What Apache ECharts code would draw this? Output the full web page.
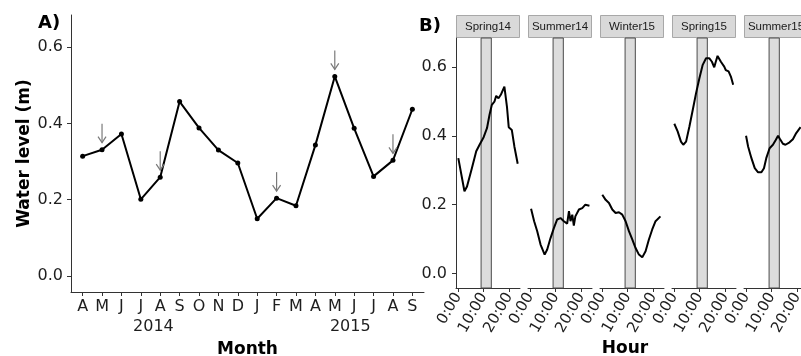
<!DOCTYPE html>
<html>
<head>
<meta charset="utf-8">
<script src="https://cdn.jsdelivr.net/npm/echarts@6/dist/echarts.min.js"></script>
<style>
  html, body { margin: 0; padding: 0; background: #ffffff; }
  #chart { width: 801px; height: 356px; }
</style>
</head>
<body>
<div id="chart"></div>
<script>
// Panel A: monthly mean water level, April 2014 to September 2015
const months = ['A','M','J','J','A','S','O','N','D','J','F','M','A','M','J','J','A','S'];
const waterLevel = [0.314, 0.331, 0.372, 0.201, 0.259, 0.457, 0.388, 0.330, 0.296,
                    0.150, 0.204, 0.184, 0.343, 0.523, 0.387, 0.261, 0.303, 0.437];
// months (by index) whose diel profile is shown in panel B
const sampledMonths = [1, 4, 10, 13, 16];
const years = ['2014', '2015'];
const yearCentres = [3.65, 13.8];

// Panel B: diel water level for each sampling campaign
const facetNames = ['Spring14', 'Summer14', 'Winter15', 'Spring15', 'Summer15'];
const spring14Hours = [0.1, 2.5, 3.5, 5.4, 7.1, 8.4, 10.0, 11.3, 12.3, 13.2, 14.2, 14.9, 15.8, 16.7, 18.1, 19.1, 19.8, 20.3, 21.0, 22.0, 23.3];
const spring14Level = [0.335, 0.239, 0.253, 0.306, 0.355, 0.374, 0.396, 0.422, 0.461, 0.490, 0.499, 0.516, 0.509, 0.519, 0.543, 0.485, 0.425, 0.429, 0.417, 0.369, 0.319];
const summer14Hours = [0.4, 1.6, 2.8, 4.1, 5.7, 6.7, 8.0, 9.3, 10.6, 11.9, 13.2, 14.5, 15.2, 15.8, 16.5, 17.1, 17.7, 19.1, 20.4, 21.6, 23.2];
const summer14Level = [0.188, 0.152, 0.123, 0.084, 0.055, 0.070, 0.103, 0.132, 0.157, 0.161, 0.152, 0.145, 0.181, 0.152, 0.171, 0.139, 0.166, 0.186, 0.190, 0.200, 0.197];
const winter15Hours = [0.1, 1.4, 2.7, 4.0, 5.3, 6.6, 7.9, 9.2, 10.5, 11.8, 13.1, 14.4, 15.7, 17.0, 18.3, 19.6, 20.9, 22.8];
const winter15Level = [0.229, 0.214, 0.205, 0.186, 0.176, 0.178, 0.171, 0.152, 0.123, 0.099, 0.074, 0.055, 0.047, 0.065, 0.099, 0.128, 0.152, 0.166];
const spring15Hours = [0.1, 1.4, 2.7, 3.6, 4.7, 6.0, 7.3, 8.6, 9.9, 11.2, 12.5, 13.8, 14.8, 15.7, 16.3, 17.0, 18.3, 19.6, 20.2, 21.3, 22.2, 23.1];
const spring15Level = [0.435, 0.413, 0.383, 0.374, 0.383, 0.427, 0.475, 0.524, 0.567, 0.606, 0.625, 0.625, 0.615, 0.599, 0.615, 0.632, 0.615, 0.601, 0.591, 0.587, 0.572, 0.548];
const summer15Hours = [0.0, 0.8, 2.1, 3.4, 4.7, 6.0, 7.0, 7.9, 9.2, 10.5, 11.6, 12.5, 13.3, 14.4, 15.4, 17.0, 18.3, 19.6, 21.3];
const summer15Level = [0.400, 0.369, 0.335, 0.306, 0.294, 0.294, 0.306, 0.335, 0.364, 0.374, 0.388, 0.400, 0.390, 0.377, 0.374, 0.381, 0.390, 0.408, 0.425];
const facetHours = [spring14Hours, summer14Hours, winter15Hours, spring15Hours, summer15Hours];
const facetLevels = [spring14Level, summer14Level, winter15Level, spring15Level, summer15Level];
// sampling window shaded in every facet (hours)
const windowStart = 9;
const windowEnd = 13;
const hourTicks = [0, 10, 20];
const levelTicks = [0, 0.2, 0.4, 0.6];

const FONT = 'DejaVu Sans';
const TEXT = '#1e1e1e';
const AXIS = '#333333';
const Y_MIN = -0.042, Y_MAX = 0.684;

const facetLeft = [456, 528, 600, 672, 744];
const FACET_W = 64, FACET_TOP = 38, FACET_H = 250;

const chart = echarts.init(document.getElementById('chart'), null, { renderer: 'canvas' });

// fixed plot boxes; labels are allowed to sit outside them
const grids = [{ left: 71, top: 15, width: 353, height: 277, containLabel: false, outerBoundsMode: 'none' }];
facetLeft.forEach(l => grids.push({
  left: l, top: FACET_TOP, width: FACET_W, height: FACET_H, containLabel: false, outerBoundsMode: 'none'
}));

const monthIdx = months.map((_, i) => i);
const axisLine = { show: true, onZero: false, lineStyle: { color: AXIS, width: 1 } };

const xAxes = [
  {
    gridIndex: 0, type: 'value', min: -0.6, max: 17.6,
    splitLine: { show: false },
    axisLine,
    axisTick: { customValues: monthIdx, length: 4, lineStyle: { color: AXIS } },
    axisLabel: { customValues: monthIdx, formatter: v => months[Math.round(v)],
                 fontFamily: FONT, fontSize: 16, color: TEXT, margin: 7 },
    name: 'Month', nameLocation: 'middle', nameGap: 49,
    nameTextStyle: { fontFamily: FONT, fontWeight: 'bold', fontSize: 17, color: '#000' }
  },
  {
    gridIndex: 0, type: 'value', min: -0.6, max: 17.6, position: 'bottom', offset: 20,
    splitLine: { show: false }, axisLine: { show: false, onZero: false }, axisTick: { show: false },
    axisLabel: { customValues: yearCentres,
                 formatter: v => years[yearCentres.indexOf(v)],
                 fontFamily: FONT, fontSize: 16, color: TEXT, margin: 7 }
  }
];
const yAxes = [
  {
    gridIndex: 0, type: 'value', min: Y_MIN, max: Y_MAX,
    splitLine: { show: false },
    axisLine,
    axisTick: { show: true, customValues: levelTicks, length: 4, lineStyle: { color: AXIS } },
    axisLabel: { customValues: levelTicks, formatter: v => v.toFixed(1),
                 fontFamily: FONT, fontSize: 16, color: TEXT, margin: 8 },
    name: 'Water level (m)', nameLocation: 'middle', nameGap: 38,
    nameTextStyle: { fontFamily: FONT, fontWeight: 'bold', fontSize: 17, color: '#000' }
  }
];

facetNames.forEach((name, i) => {
  xAxes.push({
    gridIndex: i + 1, type: 'value', min: -0.8, max: 24.2,
    splitLine: { show: false },
    axisLine,
    axisTick: { customValues: hourTicks, length: 4, lineStyle: { color: AXIS } },
    axisLabel: { customValues: hourTicks, formatter: v => v + ':00', rotate: 60,
                 fontFamily: FONT, fontSize: 15, color: TEXT, margin: 6 }
  });
  yAxes.push({
    gridIndex: i + 1, type: 'value', min: Y_MIN, max: Y_MAX,
    show: i === 0,
    splitLine: { show: false },
    axisLine,
    axisTick: { show: true, customValues: levelTicks, length: 4, lineStyle: { color: AXIS } },
    axisLabel: { customValues: levelTicks, formatter: v => v.toFixed(1),
                 fontFamily: FONT, fontSize: 16, color: TEXT, margin: 9 }
  });
});

const series = [
  {
    type: 'line', xAxisIndex: 0, yAxisIndex: 0,
    data: waterLevel.map((v, i) => [i, v]),
    symbol: 'circle', symbolSize: 5, showSymbol: true,
    lineStyle: { color: '#000', width: 2 },
    itemStyle: { color: '#000' },
    z: 3, silent: true
  },
  {
    // downward arrows over the months sampled in panel B
    type: 'custom', xAxisIndex: 0, yAxisIndex: 0,
    data: sampledMonths.map(i => [i, waterLevel[i]]),
    renderItem: (params, api) => {
      const p = api.coord([api.value(0), api.value(1)]);
      const tip = p[1] - 7, top = p[1] - 26, x = p[0];
      const style = { stroke: '#7a7a7a', lineWidth: 1.2, fill: null };
      return {
        type: 'group',
        children: [
          { type: 'line', shape: { x1: x, y1: top, x2: x, y2: tip }, style },
          { type: 'polyline', shape: { points: [[x - 4, tip - 6], [x, tip], [x + 4, tip - 6]] }, style }
        ]
      };
    },
    silent: true, z: 4
  }
];

facetNames.forEach((name, i) => {
  series.push({
    name, type: 'line', xAxisIndex: i + 2, yAxisIndex: i + 1,
    data: facetHours[i].map((h, k) => [h, facetLevels[i][k]]),
    showSymbol: false, symbol: 'none',
    lineStyle: { color: '#000', width: 2 },
    silent: true, z: 3,
    markArea: {
      silent: true,
      itemStyle: { color: '#dcdcdc', borderColor: '#4a4a4a', borderWidth: 1 },
      data: [[{ xAxis: windowStart }, { xAxis: windowEnd }]]
    }
  });
});

const graphics = [
  { type: 'text', left: 38, top: 14,
    style: { text: 'A)', font: 'bold 18px "DejaVu Sans"', fill: '#000' } },
  { type: 'text', left: 419, top: 17,
    style: { text: 'B)', font: 'bold 18px "DejaVu Sans"', fill: '#000' } },
  { type: 'text', x: 625, y: 349,
    style: { text: 'Hour', font: 'bold 17px "DejaVu Sans"', fill: '#000',
             align: 'center', verticalAlign: 'middle' } }
];
facetNames.forEach((name, i) => {
  graphics.push({
    type: 'rect', shape: { x: facetLeft[i] + 0.5, y: 15.5, width: FACET_W - 1, height: 22 },
    style: { fill: '#d9d9d9', stroke: '#a8a8a8', lineWidth: 1 }
  });
  graphics.push({
    type: 'text', x: facetLeft[i] + FACET_W / 2, y: 27,
    style: { text: name, font: '11.5px "Liberation Sans"', fill: '#1a1a1a',
             align: 'center', verticalAlign: 'middle' }
  });
});

chart.setOption({
  animation: false,
  backgroundColor: '#ffffff',
  grid: grids,
  xAxis: xAxes,
  yAxis: yAxes,
  series,
  graphic: graphics
});
</script>
</body>
</html>
